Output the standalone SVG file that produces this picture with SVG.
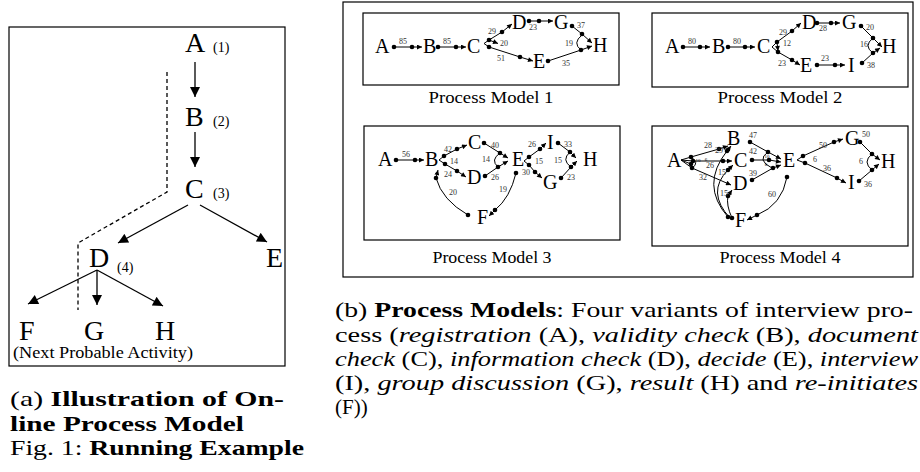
<svg xmlns="http://www.w3.org/2000/svg" width="920" height="472" viewBox="0 0 920 472">
<defs>
<marker id="ab" viewBox="0 0 10 10" refX="10" refY="5" markerWidth="12" markerHeight="10" markerUnits="userSpaceOnUse" orient="auto"><path d="M0,0 L10,5 L0,10 z" fill="#000"/></marker>
<marker id="as" viewBox="0 0 10 10" refX="10" refY="5" markerWidth="7" markerHeight="5" markerUnits="userSpaceOnUse" orient="auto"><path d="M0,0 L10,5 L0,10 z" fill="#000"/></marker>
<style>
text{font-family:"Liberation Serif","Times New Roman",serif;fill:#000}
.big{font-size:28px}
.sm{font-size:14px}
.nd{font-size:20px}
.lb{font-size:8px;text-anchor:middle;fill:#333}
.tl{font-size:5px;text-anchor:middle}
.cap{font-size:21px}
.pm{font-size:16px;text-anchor:middle}
.box{fill:none;stroke:#000;stroke-width:1.2}
.ea{fill:none;stroke:#000;stroke-width:1.3;marker-end:url(#ab)}
.e{fill:none;stroke:#000;stroke-width:1;marker-end:url(#as)}
.l{fill:none;stroke:#000;stroke-width:1}
.dash{fill:none;stroke:#000;stroke-width:1.3;stroke-dasharray:4 3}
.d{fill:#000}
.bf{font-weight:bold}
.it{font-style:italic}
</style>
</defs>
<rect width="920" height="472" fill="#fff"/>

<!-- Panel (a) -->
<g id="panel-a">
<rect class="box" x="9" y="27" width="276" height="339" stroke-width="1.6"/>
<g id="a-A"><text class="big" x="185" y="52">A</text><text class="sm" x="213" y="52">(1)</text></g>
<g id="a-B"><text class="big" x="185" y="126">B</text><text class="sm" x="213" y="126">(2)</text></g>
<g id="a-C"><text class="big" x="185" y="198">C</text><text class="sm" x="213" y="198">(3)</text></g>
<g id="a-D"><text class="big" x="89" y="267">D</text><text class="sm" x="117" y="272">(4)</text></g>
<g id="a-E"><text class="big" x="266" y="267">E</text></g>
<g id="a-F"><text class="big" x="19" y="340">F</text></g>
<g id="a-G"><text class="big" x="84" y="340">G</text></g>
<g id="a-H"><text class="big" x="155" y="340">H</text></g>
<text id="a-note" x="13" y="358" font-size="16" textLength="180" lengthAdjust="spacingAndGlyphs">(Next Probable Activity)</text>
<g id="a-connectors">
<path class="ea" d="M195,62 L195,97"/>
<path class="ea" d="M195,132 L195,167"/>
<path class="ea" d="M188,205 L118,243"/>
<path class="ea" d="M200,205 L267,242"/>
<path class="ea" d="M97,270 L28,304"/>
<path class="ea" d="M97,270 L97,305"/>
<path class="ea" d="M97,270 L163,306"/>
<path class="dash" d="M167,72 L167,192 L78,243 L78,310"/>
</g>
</g>

<text class="cap" x="10" y="406" textLength="274" lengthAdjust="spacingAndGlyphs">(a) <tspan class="bf">Illustration of On-</tspan></text>
<text class="cap bf" x="10" y="431" textLength="234" lengthAdjust="spacingAndGlyphs">line Process Model</text>
<text class="cap" x="10" y="455" textLength="294" lengthAdjust="spacingAndGlyphs">Fig. 1: <tspan class="bf">Running Example</tspan></text>

<!-- Panel (b) -->
<rect class="box" x="343" y="2" width="570" height="275"/>
<rect class="box" x="363" y="13" width="256" height="72" stroke-width="1"/>
<rect class="box" x="652" y="13" width="256" height="74" stroke-width="1"/>
<rect class="box" x="364" y="126" width="256" height="114" stroke-width="1"/>
<rect class="box" x="652" y="126" width="256" height="120" stroke-width="1"/>
<text class="pm" x="491" y="103" textLength="125" lengthAdjust="spacingAndGlyphs">Process Model 1</text>
<text class="pm" x="780" y="103" textLength="125" lengthAdjust="spacingAndGlyphs">Process Model 2</text>
<text class="pm" x="492" y="263" textLength="119" lengthAdjust="spacingAndGlyphs">Process Model 3</text>
<text class="pm" x="780" y="263" textLength="121" lengthAdjust="spacingAndGlyphs">Process Model 4</text>

<!-- Model 1 -->
<g id="m1-A"><text class="nd" x="375" y="53">A</text></g>
<g id="m1-B"><text class="nd" x="423" y="53">B</text></g>
<g id="m1-C"><text class="nd" x="467" y="53">C</text></g>
<g id="m1-D"><text class="nd" x="512" y="29">D</text></g>
<g id="m1-G"><text class="nd" x="554" y="29">G</text></g>
<g id="m1-H"><text class="nd" x="593" y="52">H</text></g>
<g id="m1-E"><text class="nd" x="533" y="68">E</text></g>
<g id="m1-connectors">
<path class="e" d="M394,47 L422,47"/><circle class="d" cx="394" cy="47" r="2.3"/><circle class="d" cx="412" cy="47" r="2.3"/><text class="lb" x="403" y="44">85</text>
<path class="e" d="M438,47 L466,47"/><circle class="d" cx="438" cy="47" r="2.3"/><circle class="d" cx="456" cy="47" r="2.3"/><text class="lb" x="447" y="44">85</text>
<path class="e" d="M489,40 L502,32 L512,24"/><circle class="d" cx="489" cy="40" r="2.3"/><circle class="d" cx="502" cy="32" r="2.3"/><text class="lb" x="492" y="34">29</text>
<path class="l" d="M489,40 L484,43.5 L489,47"/><path class="e" d="M489,40 L498,43.5"/><text class="lb" x="504" y="46">20</text>
<path class="e" d="M489,47 L520,57 L533,61"/><circle class="d" cx="489" cy="47" r="2.3"/><circle class="d" cx="520" cy="57" r="2.3"/><text class="lb" x="501" y="61">51</text>
<path class="e" d="M548,61 L581,50 L592,46"/><circle class="d" cx="548" cy="61" r="2.3"/><circle class="d" cx="581" cy="50" r="2.3"/><text class="lb" x="566" y="66">35</text>
<path class="e" d="M529,21 L553,21"/><circle class="d" cx="529" cy="21" r="2.3"/><circle class="d" cx="539" cy="21" r="2.3"/><text class="lb" x="533" y="30">23</text>
<path class="e" d="M572,26 L582,34 L592,43"/><circle class="d" cx="572" cy="26" r="2.3"/><circle class="d" cx="582" cy="34" r="2.3"/><text class="lb" x="581" y="28">37</text>
<path class="l" d="M582,35 Q572,43 581,50"/><text class="lb" x="569" y="46">19</text>
</g>

<!-- Model 2 -->
<g id="m2-A"><text class="nd" x="665" y="53">A</text></g>
<g id="m2-B"><text class="nd" x="712" y="53">B</text></g>
<g id="m2-C"><text class="nd" x="757" y="53">C</text></g>
<g id="m2-D"><text class="nd" x="802" y="29">D</text></g>
<g id="m2-G"><text class="nd" x="842" y="29">G</text></g>
<g id="m2-H"><text class="nd" x="882" y="53">H</text></g>
<g id="m2-E"><text class="nd" x="800" y="72">E</text></g>
<g id="m2-I"><text class="nd" x="848" y="72">I</text></g>
<g id="m2-connectors">
<path class="e" d="M683,47 L710,47"/><circle class="d" cx="683" cy="47" r="2.3"/><circle class="d" cx="700" cy="47" r="2.3"/><text class="lb" x="692" y="44">80</text>
<path class="e" d="M728,47 L755,47"/><circle class="d" cx="728" cy="47" r="2.3"/><circle class="d" cx="745" cy="47" r="2.3"/><text class="lb" x="737" y="44">80</text>
<path class="l" d="M777,42 L772,47 L778,52"/><path class="e" d="M777,42 L778,51"/><text class="lb" x="787" y="46">12</text>
<path class="e" d="M777,42 L792,31 L801,23"/><circle class="d" cx="777" cy="42" r="2.3"/><circle class="d" cx="792" cy="31" r="2.3"/><text class="lb" x="783" y="35">29</text>
<path class="e" d="M817,23 L840,23"/><circle class="d" cx="817" cy="23" r="2.3"/><circle class="d" cx="831" cy="23" r="2.3"/><text class="lb" x="823" y="31">28</text>
<path class="e" d="M861,26 L873,38 L882,47"/><circle class="d" cx="861" cy="26" r="2.3"/><circle class="d" cx="873" cy="38" r="2.3"/><text class="lb" x="870" y="30">20</text>
<path class="l" d="M873,38 Q863,46 873,53"/><text class="lb" x="864" y="47">16</text>
<path class="e" d="M778,52 L792,60 L800,65"/><circle class="d" cx="778" cy="52" r="2.3"/><circle class="d" cx="792" cy="60" r="2.3"/><text class="lb" x="782" y="66">23</text>
<path class="e" d="M817,65 L845,65"/><circle class="d" cx="817" cy="65" r="2.3"/><circle class="d" cx="835" cy="65" r="2.3"/><text class="lb" x="825" y="61">23</text>
<path class="e" d="M862,63 L873,53 L880,48"/><circle class="d" cx="862" cy="63" r="2.3"/><circle class="d" cx="873" cy="53" r="2.3"/><text class="lb" x="871" y="68">38</text>
</g>

<!-- Model 3 -->
<g id="m3-A"><text class="nd" x="378" y="166">A</text></g>
<g id="m3-B"><text class="nd" x="425" y="166">B</text></g>
<g id="m3-C"><text class="nd" x="468" y="149">C</text></g>
<g id="m3-D"><text class="nd" x="467" y="184">D</text></g>
<g id="m3-E"><text class="nd" x="512" y="166">E</text></g>
<g id="m3-F"><text class="nd" x="477" y="224">F</text></g>
<g id="m3-I"><text class="nd" x="547" y="149">I</text></g>
<g id="m3-G"><text class="nd" x="543" y="189">G</text></g>
<g id="m3-H"><text class="nd" x="583" y="166">H</text></g>
<g id="m3-connectors">
<path class="e" d="M396,160 L424,160"/><circle class="d" cx="396" cy="160" r="2.3"/><circle class="d" cx="415" cy="160" r="2.3"/><text class="lb" x="406" y="157">56</text>
<path class="l" d="M444,156 L439,160 L445,164"/><text class="lb" x="454" y="164">14</text>
<path class="e" d="M444,156 L457,149 L467,145"/><circle class="d" cx="444" cy="156" r="2.3"/><circle class="d" cx="457" cy="149" r="2.3"/><text class="lb" x="448" y="152">42</text>
<path class="e" d="M445,164 L457,171 L466,177"/><circle class="d" cx="445" cy="164" r="2.3"/><circle class="d" cx="457" cy="171" r="2.3"/><text class="lb" x="448" y="177">24</text>
<path class="e" d="M484,143 L500,153 L508,158"/><circle class="d" cx="484" cy="143" r="2.3"/><circle class="d" cx="500" cy="153" r="2.3"/><text class="lb" x="495" y="148">40</text>
<path class="e" d="M485,176 L498,167 L508,161"/><circle class="d" cx="485" cy="176" r="2.3"/><circle class="d" cx="498" cy="167" r="2.3"/><text class="lb" x="495" y="180">26</text>
<path class="l" d="M500,153 Q490,160 498,167"/><text class="lb" x="486" y="162">14</text>
<path class="e" d="M468,215 Q442,200 436,178 L438,170"/><circle class="d" cx="468" cy="215" r="2.3"/><circle class="d" cx="436" cy="178" r="2.3"/><text class="lb" x="453" y="195">20</text>
<path class="e" d="M516,173 Q510,198 495,210 L489,216"/><circle class="d" cx="516" cy="173" r="2.3"/><circle class="d" cx="495" cy="210" r="2.3"/><text class="lb" x="503" y="192">19</text>
<path class="l" d="M529,157 L524,161 L529,165"/><text class="lb" x="539" y="164">15</text>
<path class="e" d="M529,157 L540,149 L546,143"/><circle class="d" cx="529" cy="157" r="2.3"/><circle class="d" cx="540" cy="149" r="2.3"/><text class="lb" x="532" y="147">26</text>
<path class="e" d="M529,165 L535,172 L542,178"/><circle class="d" cx="529" cy="165" r="2.3"/><circle class="d" cx="535" cy="172" r="2.3"/><text class="lb" x="526" y="175">30</text>
<path class="e" d="M558,143 L570,152 L576,158"/><circle class="d" cx="558" cy="143" r="2.3"/><circle class="d" cx="570" cy="152" r="2.3"/><text class="lb" x="568" y="147">33</text>
<path class="e" d="M561,178 L571,167 L577,161"/><circle class="d" cx="561" cy="178" r="2.3"/><circle class="d" cx="571" cy="167" r="2.3"/><text class="lb" x="571" y="180">23</text>
<path class="l" d="M570,152 Q561,160 571,167"/><text class="lb" x="558" y="163">15</text>
</g>

<!-- Model 4 -->
<g id="m4-A"><text class="nd" x="667" y="167">A</text></g>
<g id="m4-B"><text class="nd" x="727" y="145">B</text><text class="lb" x="753" y="138">47</text></g>
<g id="m4-C"><text class="nd" x="734" y="167">C</text></g>
<g id="m4-D"><text class="nd" x="733" y="190">D</text></g>
<g id="m4-E"><text class="nd" x="783" y="167">E</text></g>
<g id="m4-F"><text class="nd" x="735" y="227">F</text></g>
<g id="m4-G"><text class="nd" x="845" y="145">G</text><text class="lb" x="866" y="137">50</text></g>
<g id="m4-H"><text class="nd" x="881" y="168">H</text></g>
<g id="m4-I"><text class="nd" x="848" y="189">I</text></g>
<g id="m4-connectors">
<path class="l" d="M681,160 L691,157 M681,160 L693,161 M681,160 L691,164 M681,160 L692,168"/>
<path class="l" d="M691,157 Q700,163 692,168"/>
<text class="tl" x="698" y="162">10</text><text class="tl" x="706" y="161">6</text>
<path class="e" d="M691,157 L719,149 L728,146"/><circle class="d" cx="691" cy="157" r="2.3"/><circle class="d" cx="719" cy="149" r="2.3"/><text class="lb" x="708" y="148">28</text>
<path class="e" d="M693,161 L723,161 L732,161"/><circle class="d" cx="693" cy="161" r="2.3"/><circle class="d" cx="723" cy="161" r="2.3"/><text class="lb" x="710" y="168">26</text>
<path class="e" d="M692,168 L722,181 L731,185"/><circle class="d" cx="691" cy="164" r="2.3"/><circle class="d" cx="692" cy="168" r="2.3"/><text class="lb" x="703" y="180">32</text>
<path class="e" d="M728,217 Q700,185 727,151 L731,146"/><circle class="d" cx="728" cy="217" r="2.3"/><circle class="d" cx="727" cy="151" r="2.3"/><text class="lb" x="719" y="153">29</text>
<path class="e" d="M730,218 Q706,192 728,170 L733,165"/><circle class="d" cx="728" cy="170" r="2.3"/><text class="lb" x="722" y="175">15</text>
<path class="e" d="M732,218 Q726,205 728,196 L732,190"/><circle class="d" cx="732" cy="218" r="2.3"/><circle class="d" cx="728" cy="196" r="2.3"/><text class="lb" x="724" y="196">15</text>
<path class="e" d="M750,142 L768,152 L781,159"/><circle class="d" cx="750" cy="142" r="2.3"/><circle class="d" cx="768" cy="152" r="2.3"/>
<path class="e" d="M752,160 L769,160 L781,162"/><circle class="d" cx="752" cy="160" r="2.3"/><circle class="d" cx="769" cy="160" r="2.3"/><text class="lb" x="753" y="154">42</text>
<path class="e" d="M752,180 L773,168 L781,165"/><circle class="d" cx="752" cy="180" r="2.3"/><circle class="d" cx="773" cy="168" r="2.3"/><text class="lb" x="753" y="176">39</text>
<path class="l" d="M768,152 Q756,160 772,168"/><text class="tl" x="767" y="158">10</text><text class="tl" x="766" y="166">6</text>
<path class="e" d="M787,177 Q782,205 757,215 L747,220"/><circle class="d" cx="787" cy="177" r="2.3"/><circle class="d" cx="757" cy="215" r="2.3"/><text class="lb" x="772" y="197">60</text>
<path class="l" d="M803,156 L797,160 L805,163"/><text class="lb" x="815" y="162">6</text>
<path class="e" d="M803,156 L834,142 L843,139"/><circle class="d" cx="803" cy="156" r="2.3"/><circle class="d" cx="834" cy="142" r="2.3"/><text class="lb" x="823" y="148">50</text>
<path class="e" d="M805,163 L837,178 L846,183"/><circle class="d" cx="805" cy="163" r="2.3"/><circle class="d" cx="837" cy="178" r="2.3"/><text class="lb" x="827" y="171">36</text>
<path class="e" d="M860,142 L872,154 L880,160"/><circle class="d" cx="860" cy="142" r="2.3"/><circle class="d" cx="872" cy="154" r="2.3"/>
<path class="e" d="M859,181 L872,170 L879,164"/><circle class="d" cx="859" cy="181" r="2.3"/><circle class="d" cx="872" cy="170" r="2.3"/><text class="lb" x="868" y="187">36</text>
<path class="l" d="M872,154 Q862,162 872,170"/><text class="lb" x="861" y="164">6</text>
</g>

<!-- Caption (b) -->
<text class="cap" x="335" y="317" textLength="578" lengthAdjust="spacingAndGlyphs">(b) <tspan class="bf">Process Models</tspan>: Four variants of interview pro-</text>
<text class="cap" x="335" y="342" textLength="583" lengthAdjust="spacingAndGlyphs">cess (<tspan class="it">registration</tspan> (A), <tspan class="it">validity check</tspan> (B), <tspan class="it">document</tspan></text>
<text class="cap" x="335" y="366" textLength="583" lengthAdjust="spacingAndGlyphs"><tspan class="it">check</tspan> (C), <tspan class="it">information check</tspan> (D), <tspan class="it">decide</tspan> (E), <tspan class="it">interview</tspan></text>
<text class="cap" x="335" y="390" textLength="583" lengthAdjust="spacingAndGlyphs">(I), <tspan class="it">group discussion</tspan> (G), <tspan class="it">result</tspan> (H) and <tspan class="it">re-initiates</tspan></text>
<text class="cap" x="335" y="414">(F))</text>
</svg>
